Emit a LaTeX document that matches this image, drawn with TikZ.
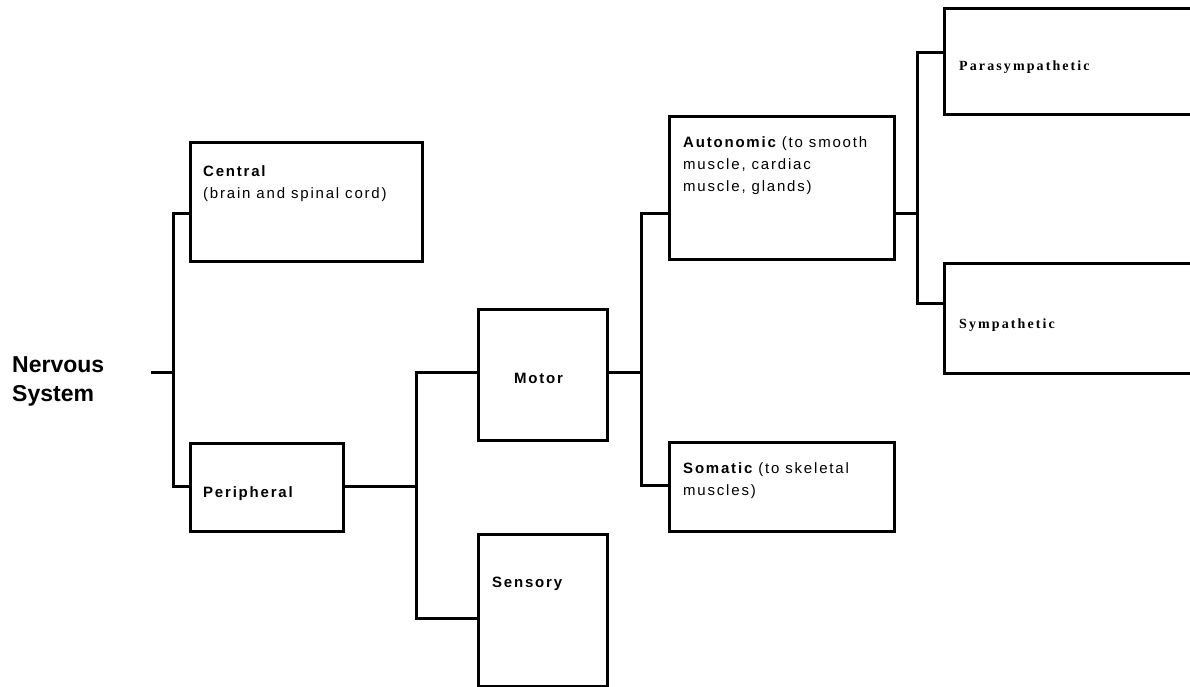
\documentclass[tikz,border=0pt]{standalone}
\usepackage{fontspec}
\setmainfont{Liberation Sans}
\newfontfamily\sansls{Liberation Sans}[LetterSpace=12]
\newfontfamily\serifls{Liberation Serif}[LetterSpace=15]
\begin{document}
\begin{tikzpicture}[x=1pt,y=-1pt,
  box/.style={draw, line width=3pt, rectangle, inner sep=0pt, anchor=north west},
  conn/.style={line width=3pt, line join=miter},
  lbl/.style={anchor=base west, inner sep=0pt, align=left, font=\sansls\fontsize{15}{22}\selectfont},
  slbl/.style={anchor=base west, inner sep=0pt, align=left, font=\serifls\bfseries\fontsize{14}{22}\selectfont},
  title/.style={anchor=base west, inner sep=0pt, align=left, font=\bfseries\fontsize{23}{29}\selectfont}]
\useasboundingbox (0,0) rectangle (1190,687);
\clip (0,0) rectangle (1190,687);
% boxes
\node[box, minimum width=232pt, minimum height=119pt] (central) at (189,141) {};
\node[box, minimum width=153pt, minimum height=88pt] (peripheral) at (189,442) {};
\node[box, minimum width=129pt, minimum height=131pt] (motor) at (477,308) {};
\node[box, minimum width=129pt, minimum height=152pt] (sensory) at (477,533) {};
\node[box, minimum width=225pt, minimum height=143pt] (autonomic) at (668,115) {};
\node[box, minimum width=225pt, minimum height=89pt] (somatic) at (668,441) {};
\node[box, minimum width=300pt, minimum height=106pt] (para) at (943,7) {};
\node[box, minimum width=300pt, minimum height=110pt] (symp) at (943,262) {};
% texts (anchor = baseline of the last line)
\node[title] (nstxt) at (12,401) {Nervous\\System};
\node[lbl] (centraltxt) at (203,198) {\bfseries Central\\(brain and spinal cord)};
\node[lbl] (periphtxt) at (203,497) {\bfseries Peripheral};
\node[lbl] (motortxt) at (514,383) {\bfseries Motor};
\node[lbl] (sensorytxt) at (492,587) {\bfseries Sensory};
\node[lbl] (autotxt) at (683,192) {{\bfseries Autonomic} (to smooth\\muscle, cardiac\\muscle, glands)};
\node[lbl] (somtxt) at (683,495) {{\bfseries Somatic} (to skeletal\\muscles)};
\node[slbl] (paratxt) at (959,71) {Parasympathetic};
\node[slbl] (symptxt) at (959,328) {Sympathetic};
% junctions
\coordinate (ns) at (151,372);
\coordinate (j1) at (173,372);
\coordinate (j2) at (416,486);
\coordinate (j3) at (641,372);
\coordinate (j4) at (917,213);
% connectors
\draw[conn] (ns) -- (j1);
\draw[conn] (central.west |- 0,213) -| (j1) |- (peripheral.west |- 0,486);
\draw[conn] (peripheral.east |- 0,486) -- (j2);
\draw[conn] (motor.west |- 0,372) -| (j2) |- (sensory.west |- 0,618);
\draw[conn] (motor.east |- 0,372) -- (j3);
\draw[conn] (autonomic.west |- 0,213) -| (j3) |- (somatic.west |- 0,485);
\draw[conn] (autonomic.east |- 0,213) -- (j4);
\draw[conn] (para.west |- 0,53) -| (j4) |- (symp.west |- 0,303);
\end{tikzpicture}
\end{document}
